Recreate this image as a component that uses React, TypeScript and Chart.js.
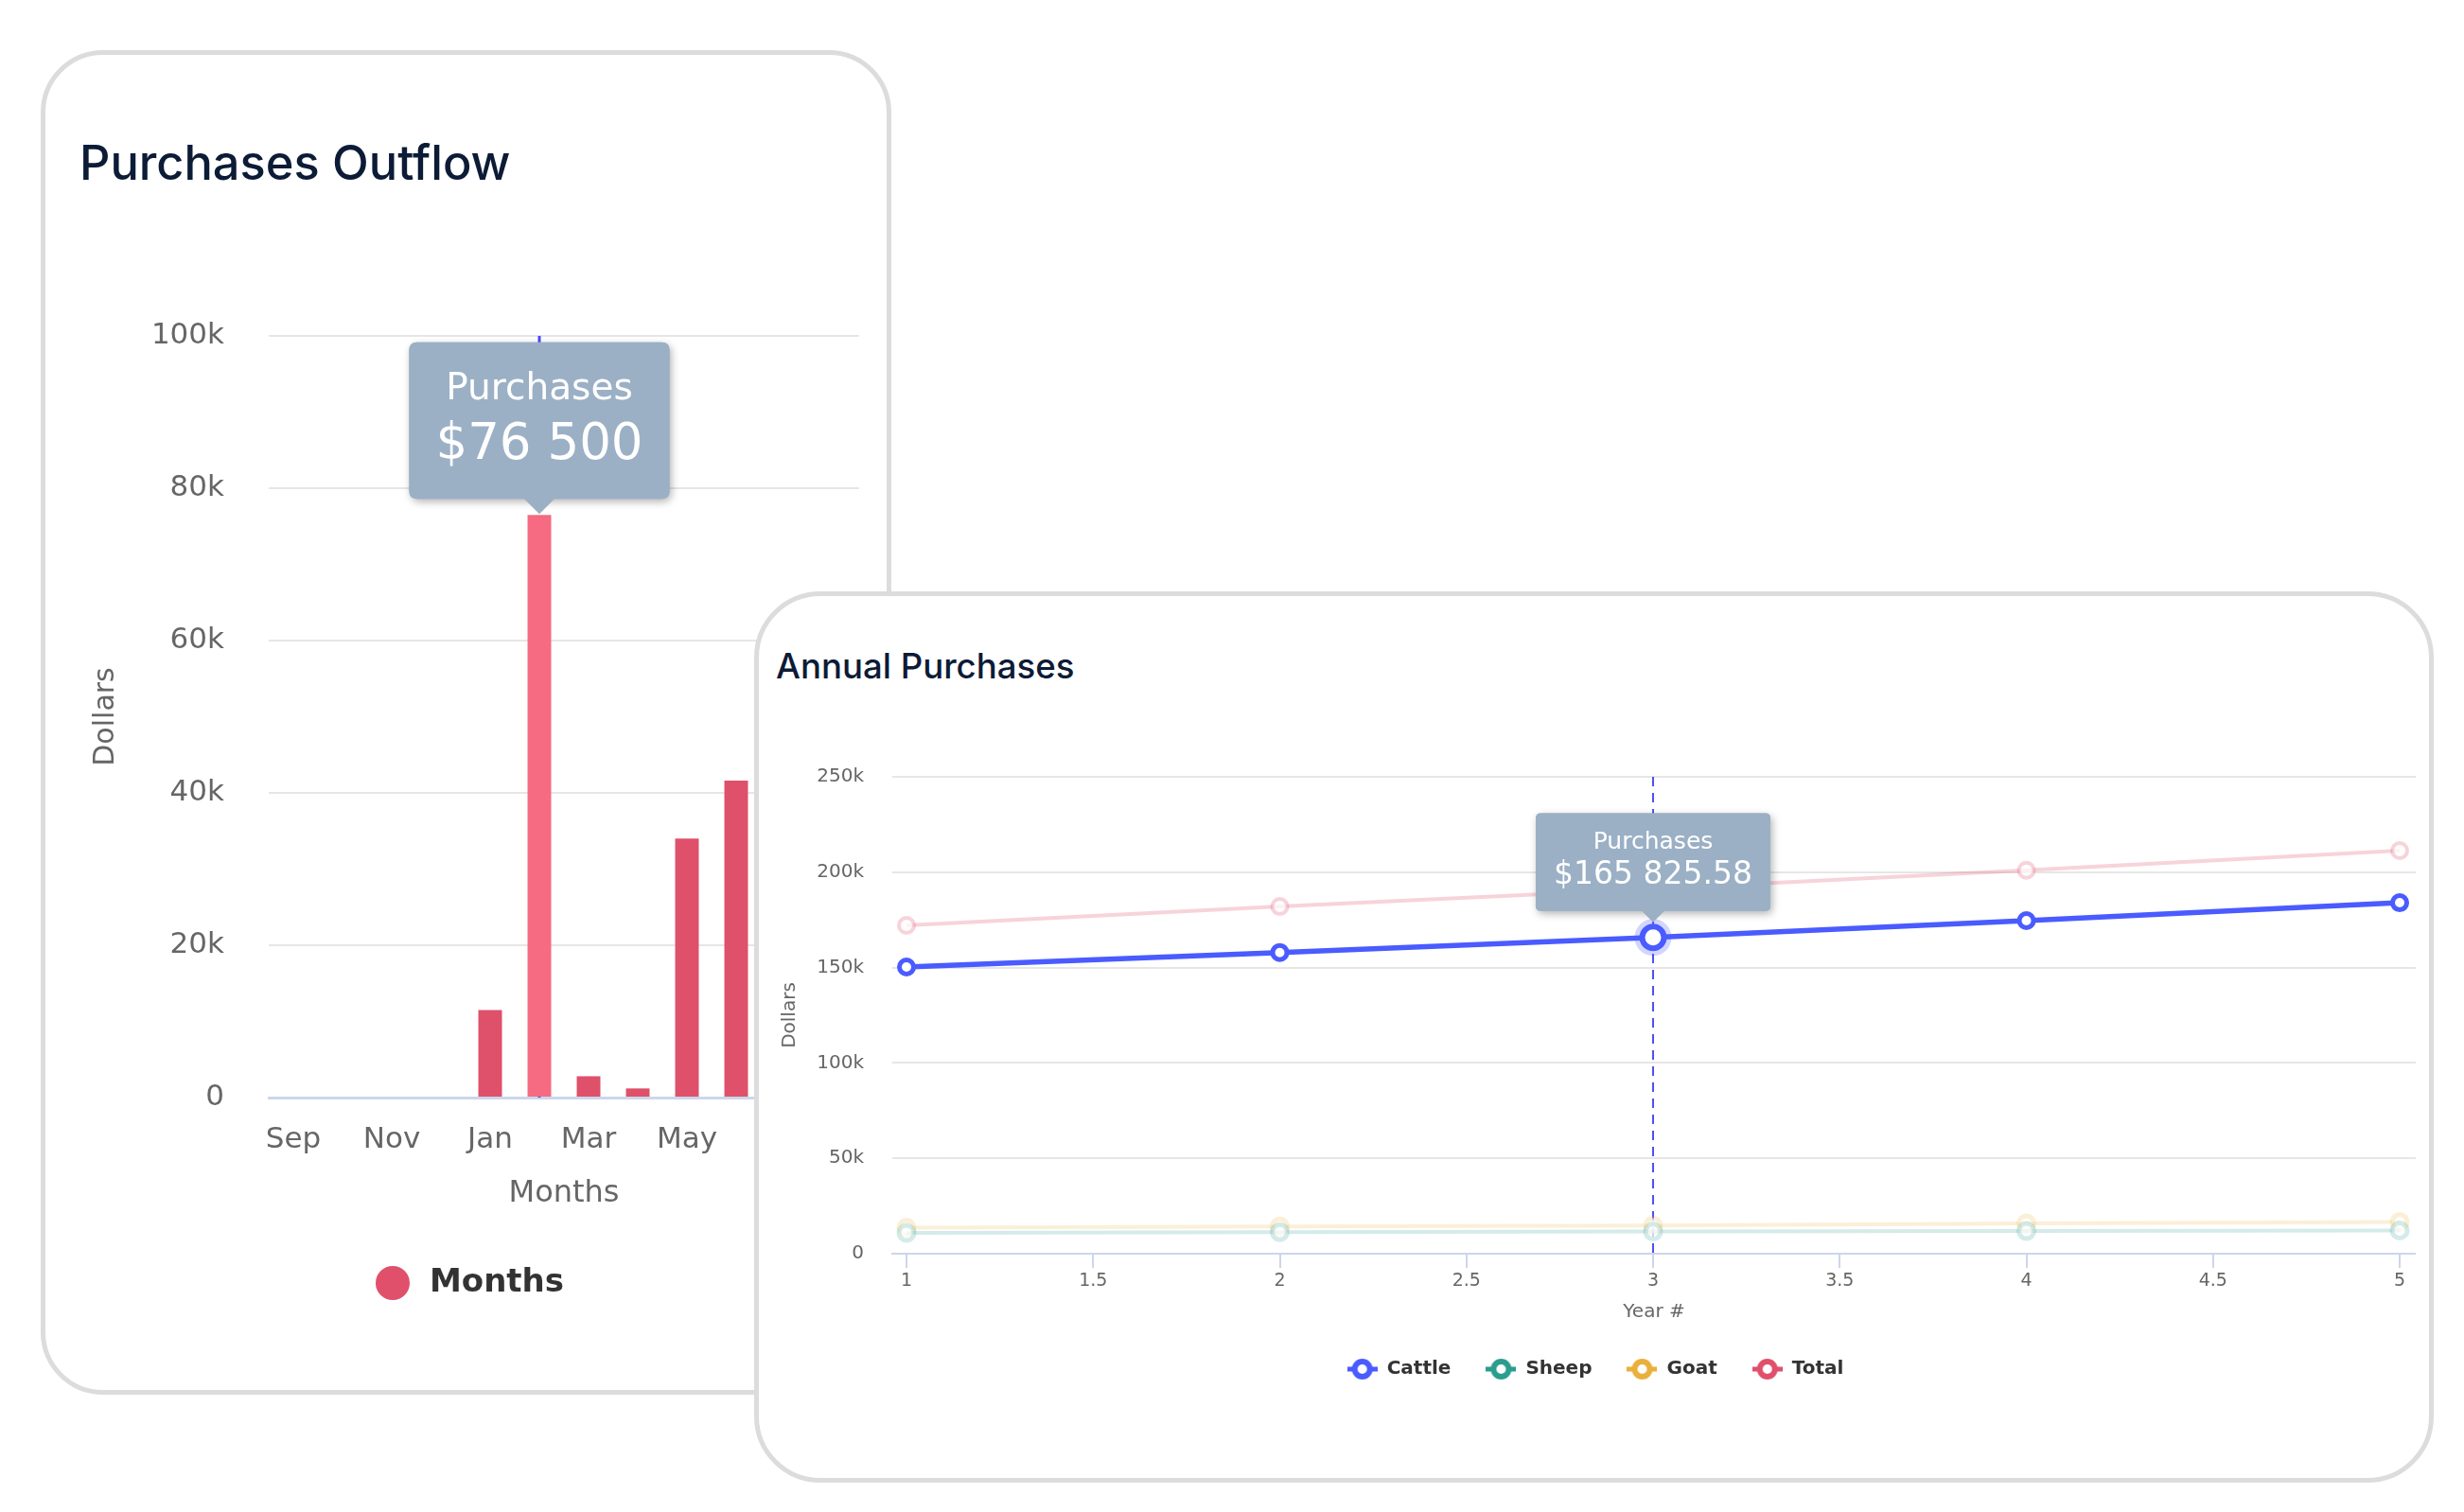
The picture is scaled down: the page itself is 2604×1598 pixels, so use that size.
import React, { useEffect, useRef } from 'react';
import { Chart, registerables, Tooltip } from 'chart.js';

Chart.register(...registerables);

// ---- Purchases Outflow (monthly bars) ----
const monthLabels = ['Sep', 'Oct', 'Nov', 'Dec', 'Jan', 'Feb', 'Mar', 'Apr', 'May', 'Jun', 'Jul', 'Aug'];
const monthlyPurchases: (number | null)[] = [0, 0, 0, 0, 11500, 76500, 2800, 1200, 34000, 41600, null, null];
const highlightedMonth = 5;
const monthlyTicks = [0, 20000, 40000, 60000, 80000, 100000];

// ---- Annual Purchases (by livestock type) ----
const years = [1, 2, 3, 4, 5];
const cattle = [150300, 157900, 165825.58, 174600, 184000];
const sheep = [10900, 11300, 11600, 11900, 12200];
const goat = [13700, 14300, 14800, 15900, 16600];
const total = [172100, 182000, 191200, 201000, 211300];
const highlightedYear = 2;
const yearTicks = [1, 1.5, 2, 2.5, 3, 3.5, 4, 4.5, 5];
const annualTicks = [0, 50000, 100000, 150000, 200000, 250000];
const seriesNames = ['Cattle', 'Sheep', 'Goat', 'Total'];
const seriesColors = ['#4a5bff', '#2a9d8f', '#e9b03b', '#e0506a'];

const FONT = "'DejaVu Sans', sans-serif";
Chart.defaults.font.family = FONT;

const kLabel = (v: number | string) => {
  const n = Number(v);
  return n === 0 ? '0' : `${n / 1000}k`;
};

const formatDollars = (v: number) => {
  const fixed = Number.isInteger(v) ? String(v) : v.toFixed(2);
  const [int, dec] = fixed.split('.');
  const grouped = int.replace(/\B(?=(\d{3})+(?!\d))/g, ' ');
  return '$' + grouped + (dec ? '.' + dec : '');
};

const withAlpha = (hex: string, a: number) => {
  const n = parseInt(hex.slice(1), 16);
  return `rgba(${(n >> 16) & 255},${(n >> 8) & 255},${n & 255},${a})`;
};

// Tooltip anchored on the element's own x/y (bar top, point centre)
(Tooltip.positioners as any).anchorTop = function (items: any[]) {
  if (!items.length) return false;
  const el = items[0].element;
  return { x: el.x, y: el.y };
};

const tooltipShadow = {
  id: 'tooltipShadow',
  beforeTooltipDraw(chart: any, args: any) {
    const tt = args.tooltip;
    if (!tt || !tt.opacity) return;
    const ctx = chart.ctx;
    ctx.save();
    ctx.shadowColor = 'rgba(0,0,0,0.3)';
    ctx.shadowBlur = 8;
    ctx.shadowOffsetX = 2;
    ctx.shadowOffsetY = 3;
    ctx.fillStyle = tt.options.backgroundColor;
    ctx.beginPath();
    ctx.roundRect(tt.x, tt.y, tt.width, tt.height, tt.options.cornerRadius);
    ctx.fill();
    ctx.restore();
  },
};

const crosshair = {
  id: 'crosshair',
  beforeDatasetsDraw(chart: any, _args: any, opts: any) {
    if (!opts || opts.value == null) return;
    const { top, bottom } = chart.chartArea;
    const x = chart.scales.x.getPixelForValue(opts.value);
    const ctx = chart.ctx;
    ctx.save();
    ctx.strokeStyle = opts.color;
    ctx.lineWidth = opts.width;
    ctx.setLineDash(opts.dash);
    ctx.beginPath();
    ctx.moveTo(x, top);
    ctx.lineTo(x, bottom);
    ctx.stroke();
    ctx.restore();
  },
};

const halo = {
  id: 'halo',
  afterDatasetsDraw(chart: any, _args: any, opts: any) {
    if (!opts || opts.index == null) return;
    const el = chart.getDatasetMeta(opts.datasetIndex).data[opts.index];
    if (!el) return;
    const ctx = chart.ctx;
    ctx.save();
    ctx.fillStyle = opts.color;
    ctx.beginPath();
    ctx.arc(el.x, el.y, opts.outer, 0, Math.PI * 2);
    ctx.arc(el.x, el.y, opts.inner, 0, Math.PI * 2, true);
    ctx.fill();
    ctx.restore();
  },
};

function dotMarker(color: string) {
  const c = document.createElement('canvas');
  c.width = 40;
  c.height = 36;
  const g = c.getContext('2d')!;
  g.fillStyle = color;
  g.beginPath();
  g.arc(18, 18, 18, 0, Math.PI * 2);
  g.fill();
  return c;
}

function lineMarker(color: string) {
  const c = document.createElement('canvas');
  c.width = 32;
  c.height = 24;
  const g = c.getContext('2d')!;
  g.strokeStyle = color;
  g.lineWidth = 5;
  g.beginPath();
  g.moveTo(0, 12);
  g.lineTo(32, 12);
  g.stroke();
  g.beginPath();
  g.arc(16, 12, 8, 0, Math.PI * 2);
  g.fillStyle = '#ffffff';
  g.fill();
  g.lineWidth = 6;
  g.stroke();
  return c;
}

const gridColor = (c: any) => (c.tick && c.tick.value === 0 ? 'rgba(0,0,0,0)' : '#e6e6e6');

export default function App() {
  const leftRef = useRef<HTMLCanvasElement>(null);
  const rightRef = useRef<HTMLCanvasElement>(null);

  useEffect(() => {
    const barColors = monthlyPurchases.map((_, i) => (i === highlightedMonth ? '#f66a82' : '#df506a'));

    const left = new Chart(leftRef.current!, {
      type: 'bar',
      data: {
        labels: monthLabels,
        datasets: [
          {
            label: 'Months',
            data: monthlyPurchases,
            backgroundColor: barColors,
            hoverBackgroundColor: barColors,
            categoryPercentage: 0.8,
            barPercentage: 0.6,
          },
        ],
      },
      options: {
        responsive: false,
        animation: false,
        devicePixelRatio: 1,
        events: [],
        layout: { autoPadding: false, padding: { top: 80, left: 0, right: 0, bottom: 0 } },
        scales: {
          x: {
            grid: { display: true, drawOnChartArea: false, drawTicks: false },
            border: { display: true, color: '#ccd6eb', width: 3 },
            ticks: {
              autoSkip: false,
              maxRotation: 0,
              padding: 26,
              color: '#666666',
              font: { size: 31 },
              callback: function (this: any, v: any, i: number) {
                return i % 2 === 0 ? this.getLabelForValue(v) : '';
              },
            },
            title: { display: true, text: 'Months', color: '#666666', font: { size: 32 }, padding: { top: 0, bottom: 0 } },
            afterFit: (s: any) => {
              s.height = 121;
            },
          },
          y: {
            min: 0,
            max: 100000,
            afterBuildTicks: (s: any) => {
              s.ticks = monthlyTicks.map((v) => ({ value: v }));
            },
            grid: { color: gridColor, lineWidth: 2, drawTicks: false },
            border: { display: false },
            ticks: { padding: 47, color: '#666666', font: { size: 31 }, callback: kLabel },
            title: { display: true, text: 'Dollars', color: '#666666', font: { size: 30 }, padding: { top: 9, bottom: 0 } },
            afterFit: (s: any) => {
              s.width = 199;
            },
          },
        },
        plugins: {
          legend: {
            position: 'bottom',
            labels: {
              usePointStyle: true,
              pointStyleWidth: 40,
              padding: 58,
              color: '#333333',
              font: { size: 34, weight: 'bold' },
              generateLabels: () => [
                {
                  text: 'Months',
                  pointStyle: dotMarker('#e0506a') as any,
                  fillStyle: '#e0506a',
                  strokeStyle: '#e0506a',
                  lineWidth: 0,
                  hidden: false,
                  datasetIndex: 0,
                  fontColor: '#333333',
                },
              ],
            },
          },
          tooltip: {
            enabled: true,
            position: 'anchorTop' as any,
            yAlign: 'bottom',
            xAlign: 'center',
            backgroundColor: '#9bb0c5',
            titleColor: '#ffffff',
            bodyColor: '#ffffff',
            titleFont: { size: 39, weight: 'normal', lineHeight: 1.2 },
            bodyFont: { size: 53, lineHeight: 1.2 },
            titleAlign: 'center',
            bodyAlign: 'center',
            padding: { top: 27, bottom: 24, left: 28, right: 28 },
            titleMarginBottom: 4,
            caretSize: 16,
            caretPadding: 1,
            cornerRadius: 8,
            displayColors: false,
            animation: false,
            callbacks: {
              title: () => 'Purchases',
              label: (c: any) => formatDollars(c.parsed.y),
            },
          },
          crosshair: { value: highlightedMonth, color: '#4a4aff', width: 3, dash: [14, 10] },
        } as any,
      },
      plugins: [crosshair, tooltipShadow],
    });

    const seriesValues = [cattle, sheep, goat, total];
    const datasets = seriesValues.map((vals, si) => {
      const active = si === 0;
      const color = seriesColors[si];
      const faded = withAlpha(color, si === 3 ? 0.25 : 0.2);
      return {
        label: seriesNames[si],
        data: years.map((x, i) => ({ x, y: vals[i] })),
        borderColor: active ? color : faded,
        borderWidth: active ? 5.5 : 4,
        pointBackgroundColor: active ? '#ffffff' : 'rgba(255,255,255,0.7)',
        pointBorderColor: active ? color : faded,
        pointRadius: active ? years.map((_, i) => (i === highlightedYear ? 11.5 : 7.5)) : 8,
        pointBorderWidth: active ? years.map((_, i) => (i === highlightedYear ? 6 : 5)) : si === 3 ? 4 : 5,
        pointHoverRadius: active ? years.map((_, i) => (i === highlightedYear ? 11.5 : 7.5)) : 8,
        tension: 0,
        clip: false,
      };
    });

    const right = new Chart(rightRef.current!, {
      type: 'line',
      data: { datasets: datasets as any },
      options: {
        responsive: false,
        animation: false,
        devicePixelRatio: 1,
        events: [],
        layout: { autoPadding: false, padding: { top: 60, left: 0, right: 0, bottom: 0 } },
        scales: {
          x: {
            type: 'linear',
            min: 0.962,
            max: 5.043,
            afterBuildTicks: (s: any) => {
              s.ticks = yearTicks.map((v) => ({ value: v }));
            },
            grid: { drawOnChartArea: false, drawTicks: true, tickLength: 15, color: '#ccd6eb', lineWidth: 2 },
            border: { display: true, color: '#ccd6eb', width: 2 },
            ticks: { padding: 3, color: '#666666', font: { size: 19 }, callback: (v: any) => String(v) },
            title: { display: true, text: 'Year #', color: '#666666', font: { size: 20 }, padding: { top: 0, bottom: 1 } },
            afterFit: (s: any) => {
              s.height = 75;
            },
          },
          y: {
            min: 0,
            max: 250000,
            afterBuildTicks: (s: any) => {
              s.ticks = annualTicks.map((v) => ({ value: v }));
            },
            grid: { color: gridColor, lineWidth: 2, drawTicks: false },
            border: { display: false },
            ticks: { padding: 30, color: '#666666', font: { size: 20 }, callback: kLabel },
            title: { display: true, text: 'Dollars', color: '#666666', font: { size: 20 }, padding: { top: 4, bottom: 0 } },
            afterFit: (s: any) => {
              s.width = 124;
            },
          },
        },
        plugins: {
          legend: {
            position: 'bottom',
            labels: {
              usePointStyle: true,
              pointStyleWidth: 32,
              padding: 37,
              color: '#333333',
              font: { size: 20, weight: 'bold' },
              generateLabels: () =>
                seriesNames.map((name, i) => ({
                  text: name,
                  pointStyle: lineMarker(seriesColors[i]) as any,
                  fillStyle: seriesColors[i],
                  strokeStyle: seriesColors[i],
                  lineWidth: 0,
                  hidden: false,
                  datasetIndex: i,
                  fontColor: '#333333',
                })),
            },
          },
          tooltip: {
            enabled: true,
            position: 'anchorTop' as any,
            yAlign: 'bottom',
            xAlign: 'center',
            backgroundColor: '#9bb0c5',
            titleColor: '#ffffff',
            bodyColor: '#ffffff',
            titleFont: { size: 25, weight: 'normal', lineHeight: 1.2 },
            bodyFont: { size: 33, lineHeight: 1.2 },
            titleAlign: 'center',
            bodyAlign: 'center',
            padding: { top: 15.5, bottom: 17, left: 19, right: 19 },
            titleMarginBottom: 1,
            caretSize: 12,
            caretPadding: 16,
            cornerRadius: 5,
            displayColors: false,
            animation: false,
            callbacks: {
              title: () => 'Purchases',
              label: (c: any) => formatDollars(c.parsed.y),
            },
          },
          crosshair: { value: years[highlightedYear], color: '#5050f0', width: 2, dash: [10, 7] },
          halo: { datasetIndex: 0, index: highlightedYear, inner: 14.5, outer: 19.5, color: withAlpha(seriesColors[0], 0.25) },
        } as any,
      },
      plugins: [crosshair, halo, tooltipShadow],
    });

    left.tooltip!.setActiveElements([{ datasetIndex: 0, index: highlightedMonth }], { x: 0, y: 0 });
    left.draw();
    right.tooltip!.setActiveElements([{ datasetIndex: 0, index: highlightedYear }], { x: 0, y: 0 });
    right.draw();

    return () => {
      left.destroy();
      right.destroy();
    };
  }, []);

  const card: React.CSSProperties = {
    position: 'absolute',
    boxSizing: 'border-box',
    border: '5px solid #dcdcdc',
    background: '#ffffff',
  };
  const heading: React.CSSProperties = {
    position: 'absolute',
    margin: 0,
    fontFamily: "Inter, 'Noto Sans', sans-serif",
    fontWeight: 500,
    color: '#0c1b36',
    lineHeight: 1,
    whiteSpace: 'nowrap',
  };

  return (
    <div style={{ position: 'absolute', left: 0, top: 0, width: 2604, height: 1598, background: '#ffffff', overflow: 'hidden' }}>
      <div style={{ ...card, left: 43, top: 53, width: 899, height: 1421, borderRadius: 66 }} />
      <div style={{ ...heading, left: 84, top: 147, fontSize: 50.5 }}>Purchases Outflow</div>
      <canvas ref={leftRef} width={823} height={1108} style={{ position: 'absolute', left: 85, top: 275, width: 823, height: 1108 }} />

      <div style={{ ...card, left: 797, top: 625, width: 1775, height: 942, borderRadius: 70 }} />
      <div style={{ ...heading, left: 820, top: 686, fontSize: 36.6 }}>Annual Purchases</div>
      <canvas ref={rightRef} width={1734} height={706} style={{ position: 'absolute', left: 819, top: 761, width: 1734, height: 706 }} />
    </div>
  );
}
